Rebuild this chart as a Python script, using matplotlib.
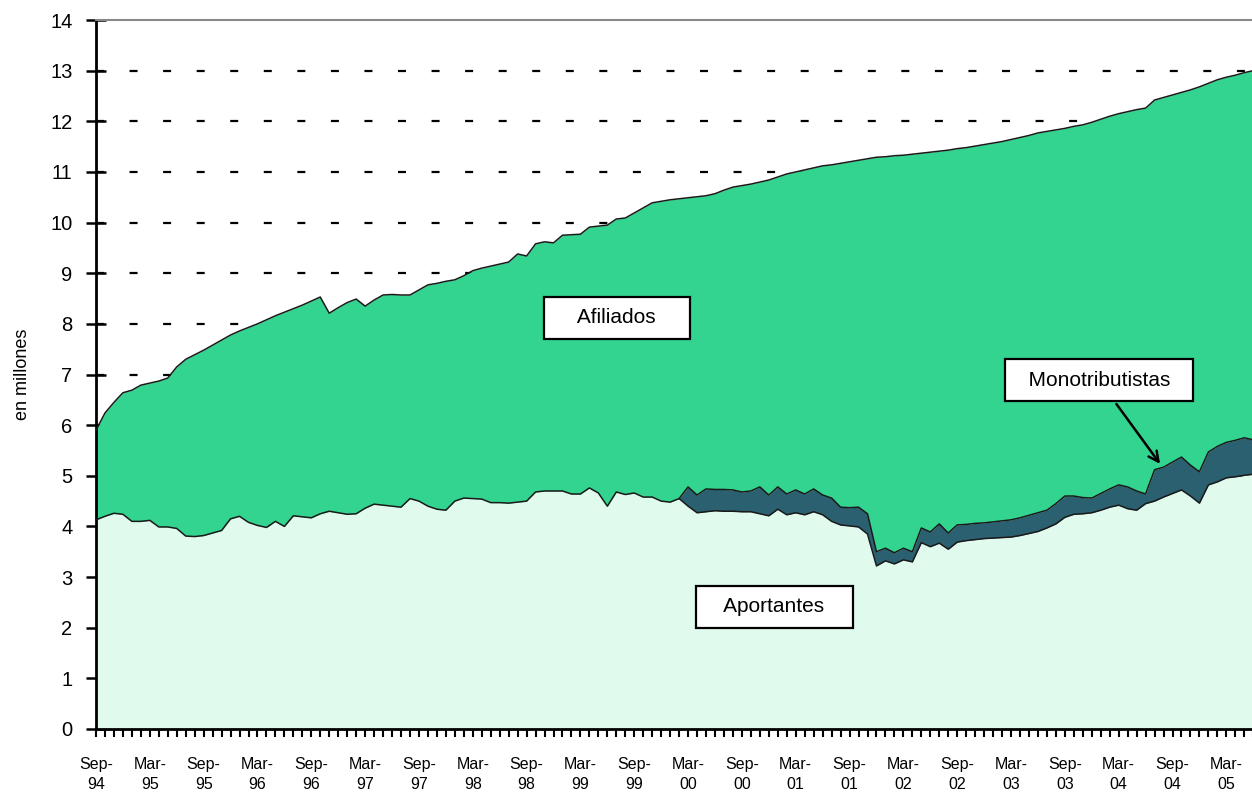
import numpy as np
import matplotlib
matplotlib.use("Agg")
import matplotlib.pyplot as plt

plt.rcParams['font.family'] = ['Liberation Sans', 'DejaVu Sans']

# monthly series, Sep-94 .. Jun-05 (millions)
afiliados = [
    5.90, 6.24, 6.45, 6.64, 6.69, 6.79, 6.83, 6.87, 6.93, 7.15,
    7.30, 7.39, 7.48, 7.58, 7.68, 7.78, 7.86, 7.93, 8.00, 8.08,
    8.16, 8.23, 8.30, 8.37, 8.45, 8.53, 8.21, 8.32, 8.42, 8.49,
    8.35, 8.47, 8.57, 8.58, 8.57, 8.57, 8.67, 8.77, 8.80, 8.84,
    8.87, 8.95, 9.05, 9.10, 9.14, 9.18, 9.22, 9.38, 9.34, 9.58,
    9.62, 9.60, 9.75, 9.76, 9.77, 9.91, 9.93, 9.95, 10.07, 10.09,
    10.19, 10.29, 10.39, 10.42, 10.45, 10.47, 10.49, 10.51, 10.53, 10.57,
    10.64, 10.70, 10.73, 10.76, 10.80, 10.84, 10.90, 10.96, 11.00, 11.04,
    11.08, 11.12, 11.14, 11.17, 11.20, 11.23, 11.26, 11.29, 11.30, 11.32,
    11.33, 11.35, 11.37, 11.39, 11.41, 11.43, 11.46, 11.48, 11.51, 11.54,
    11.57, 11.60, 11.64, 11.68, 11.72, 11.77, 11.80, 11.83, 11.86, 11.90,
    11.93, 11.98, 12.04, 12.10, 12.15, 12.19, 12.23, 12.26, 12.42, 12.47,
    12.52, 12.57, 12.62, 12.68, 12.75, 12.82, 12.87, 12.91, 12.96, 13.00,
]

aportantes = [
    4.13, 4.20, 4.26, 4.24, 4.10, 4.10, 4.12, 3.99, 3.99, 3.96,
    3.81, 3.80, 3.82, 3.87, 3.92, 4.15, 4.20, 4.08, 4.02, 3.98,
    4.10, 4.00, 4.21, 4.19, 4.17, 4.25, 4.30, 4.27, 4.24, 4.25,
    4.36, 4.44, 4.42, 4.40, 4.38, 4.55, 4.50, 4.40, 4.34, 4.32,
    4.50, 4.56, 4.55, 4.54, 4.47, 4.47, 4.46, 4.48, 4.50, 4.68,
    4.70, 4.70, 4.70, 4.64, 4.64, 4.76, 4.66, 4.40, 4.68, 4.63,
    4.66, 4.58, 4.58, 4.50, 4.48, 4.55, 4.40, 4.27, 4.29, 4.31,
    4.30, 4.30, 4.29, 4.29, 4.25, 4.21, 4.34, 4.23, 4.27, 4.23,
    4.29, 4.23, 4.10, 4.03, 4.01, 3.99, 3.85, 3.22, 3.32, 3.26,
    3.34, 3.30, 3.68, 3.60, 3.67, 3.55, 3.69, 3.72, 3.74, 3.76,
    3.77, 3.78, 3.79, 3.82, 3.86, 3.90, 3.97, 4.05, 4.18, 4.24,
    4.25, 4.27, 4.32, 4.38, 4.42, 4.35, 4.32, 4.45, 4.50, 4.58,
    4.65, 4.72, 4.60, 4.46, 4.82, 4.88, 4.96, 4.98, 5.01, 5.03,
]

# monotributistas start in Feb-00 (month 65)
mono_start = 65
monotributistas = [
    0.00, 0.38, 0.35, 0.45, 0.42, 0.43, 0.42, 0.39, 0.41, 0.53,
    0.41, 0.44, 0.41, 0.45, 0.41, 0.45, 0.39, 0.46, 0.35, 0.36,
    0.39, 0.40, 0.28, 0.25, 0.22, 0.23, 0.20, 0.29, 0.29, 0.38,
    0.32, 0.34, 0.32, 0.32, 0.31, 0.32, 0.33, 0.34, 0.35, 0.36,
    0.37, 0.35, 0.40, 0.42, 0.36, 0.32, 0.29, 0.33, 0.36, 0.40,
    0.43, 0.38, 0.19, 0.62, 0.59, 0.62, 0.65, 0.61, 0.62, 0.65,
    0.70, 0.70, 0.72, 0.74, 0.68,
]

tick_labels = [
    'Sep-\n94', 'Mar-\n95', 'Sep-\n95', 'Mar-\n96', 'Sep-\n96', 'Mar-\n97',
    'Sep-\n97', 'Mar-\n98', 'Sep-\n98', 'Mar-\n99', 'Sep-\n99', 'Mar-\n00',
    'Sep-\n00', 'Mar-\n01', 'Sep-\n01', 'Mar-\n02', 'Sep-\n02', 'Mar-\n03',
    'Sep-\n03', 'Mar-\n04', 'Sep-\n04', 'Mar-\n05',
]

months = np.arange(len(afiliados))
apo = np.array(aportantes)
mon = np.zeros(len(afiliados))
mon[mono_start:] = monotributistas
afi = np.array(afiliados)

c_apo = '#E0FAEE'
c_mon = '#2A6070'
c_afi = '#33D48F'

fig = plt.figure(figsize=(12.52, 8.06), dpi=100)
ax = fig.add_axes([96/1252, 77/806, 1 - 96/1252 + 0.001, 709/806])

ax.fill_between(months, 0, apo, color=c_apo, lw=0, zorder=2)
ax.fill_between(months, apo, apo + mon, color=c_mon, lw=0, zorder=2)
ax.fill_between(months, apo + mon, afi, color=c_afi, lw=0, zorder=2)
ax.plot(months, apo, color='#1a1a1a', lw=1.1, zorder=3)
ax.plot(months[mono_start:], (apo + mon)[mono_start:], color='#1a1a1a', lw=1.1, zorder=3)
ax.plot(months, afi, color='#1a1a1a', lw=1.1, zorder=3)

ax.set_xlim(0, 128.9)
ax.set_ylim(0, 14)

# dashed grid
ax.set_yticks(range(0, 15))
for v in range(1, 14):
    ax.axhline(v, color='black', lw=1.6, linestyle=(0, (3.6, 11.5)), zorder=1)

ax.set_xticks(np.arange(0, len(afiliados), 6))
ax.set_xticklabels(tick_labels, fontsize=11.5, linespacing=1.4)
ax.set_xticks(months, minor=True)
ax.tick_params(axis='x', which='both', direction='out', length=6, width=1.5, color='black', pad=14)
ax.tick_params(axis='y', direction='inout', length=14, width=1.8, labelsize=14.5, pad=10)

for s in ['left', 'bottom']:
    ax.spines[s].set_linewidth(2)
    ax.spines[s].set_color('black')
ax.spines['right'].set_visible(False)
ax.spines['top'].set_color('#888888')
ax.spines['top'].set_linewidth(1.5)

ax.set_ylabel('en millones', fontsize=13, labelpad=14)

box = dict(boxstyle='square,pad=0.55', fc='white', ec='black', lw=1.6)
ax.text(58.1, 8.12, '    Afiliados    ', ha='center', va='center', fontsize=15, bbox=box, zorder=5)
ax.text(75.6, 2.41, '   Aportantes   ', ha='center', va='center', fontsize=15, bbox=box, zorder=5)
ax.annotate('  Monotributistas  ', xy=(118.8, 5.19), xytext=(111.8, 6.89),
            ha='center', va='center', fontsize=15, bbox=box, zorder=5,
            arrowprops=dict(arrowstyle='->', color='black', lw=1.8, mutation_scale=18))

fig.savefig('out.png', dpi=100)
